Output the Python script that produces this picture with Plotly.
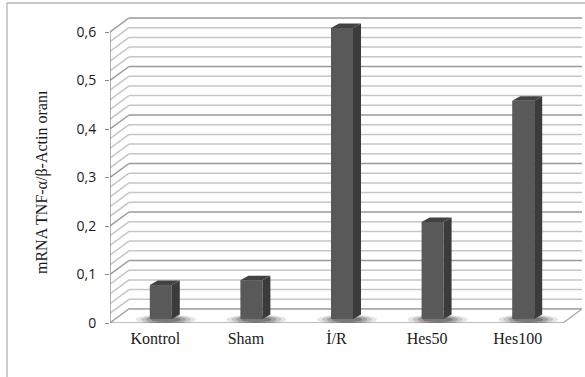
import plotly.graph_objects as go

# Data
categories = ["Kontrol", "Sham", "İ/R", "Hes50", "Hes100"]
tnf_ratio = [0.07, 0.08, 0.60, 0.20, 0.45]
y_ticks = [0.0, 0.1, 0.2, 0.3, 0.4, 0.5, 0.6]
y_tick_text = ["0", "0,1", "0,2", "0,3", "0,4", "0,5", "0,6"]
y_title = "mRNA TNF-α/β-Actin oranı"

# Figure geometry (pixels)
W, H = 585, 377
ML, MR, MT, MB = 110, 3, 16, 54
PW, PH = W - ML - MR, H - MT - MB
N = len(categories)
YMAX = 0.6
XS = 90.6          # px per category
YS = 485.0         # px per value unit

# 3D oblique depth of the walls/floor, and of the bars (in px)
WALL_DX, WALL_DY = 19, 14
BAR_F_DX, BAR_F_DY = 5.5, 4.0
BAR_B_DX, BAR_B_DY = 13.5, 8.5
BAR_W = 22

dx = WALL_DX / XS
dy = WALL_DY / YS
fdx, fdy = BAR_F_DX / XS, BAR_F_DY / YS
bdx, bdy = BAR_B_DX / XS, BAR_B_DY / YS
bw = BAR_W / XS

x_left, x_right = -0.5, N - 0.5

FRONT = "#595959"
SIDE = "#3b3b3b"
TOP = "#424242"
MINOR = "#c6c6c6"
MAJOR = "#999999"

shapes = []

# Back wall and left wall gridlines
steps = int(round(YMAX / 0.02))
for k in range(steps + 1):
    v = k * 0.02
    major = k % 5 == 0
    col = MAJOR if major else MINOR
    shapes.append(dict(type="line", xref="x", yref="y", layer="below",
                       x0=x_left + dx, y0=v + dy, x1=x_right + dx, y1=v + dy,
                       line=dict(color=col, width=1.5)))
    shapes.append(dict(type="line", xref="x", yref="y", layer="below",
                       x0=x_left, y0=v, x1=x_left + dx, y1=v + dy,
                       line=dict(color=col, width=1.5)))

# Floor
shapes.append(dict(type="path", xref="x", yref="y", layer="below",
                   path=f"M{x_left},0 L{x_right},0 L{x_right + dx},{dy} L{x_left + dx},{dy} Z",
                   fillcolor="white", line=dict(color="#a8a8a8", width=1.3)))

# Front vertical axis line
shapes.append(dict(type="line", xref="x", yref="y", layer="below",
                   x0=x_left, y0=0, x1=x_left, y1=YMAX,
                   line=dict(color="#8a8a8a", width=1.3)))

# Soft shadows on the floor under each bar (stacked translucent ellipses)
for i in range(N):
    cx = i + fdx + 5 / XS
    cy = fdy - 0.5 / YS
    for rx, ry, op in [(30, 5.0, 0.10), (25, 4.2, 0.14), (20, 3.4, 0.18), (15, 2.6, 0.24)]:
        shapes.append(dict(type="circle", xref="x", yref="y", layer="below",
                           x0=cx - rx / XS, x1=cx + rx / XS,
                           y0=cy - ry / YS, y1=cy + ry / YS,
                           fillcolor="black", opacity=op, line=dict(width=0)))

# Side and top faces of each bar
for i, v in enumerate(tnf_ratio):
    xr = i + fdx + bw / 2
    xl = i + fdx - bw / 2
    ddx, ddy = bdx - fdx, bdy - fdy
    y0 = fdy
    y1 = fdy + v
    shapes.append(dict(type="path", xref="x", yref="y", layer="above",
                       path=f"M{xr},{y0} L{xr + ddx},{y0 + ddy} L{xr + ddx},{y1 + ddy} L{xr},{y1} Z",
                       fillcolor=SIDE, line=dict(width=0)))
    shapes.append(dict(type="path", xref="x", yref="y", layer="above",
                       path=f"M{xl},{y1} L{xr},{y1} L{xr + ddx},{y1 + ddy} L{xl + ddx},{y1 + ddy} Z",
                       fillcolor=TOP, line=dict(width=0)))

# Chart frame (top and left edges)
px0 = (7 - ML) / PW
py0 = 1 - (3 - MT) / PH
shapes.append(dict(type="line", xref="paper", yref="paper", x0=px0, y0=py0, x1=1 + MR / PW + 0.01, y1=py0,
                   line=dict(color="#b4b4b4", width=1.3)))
shapes.append(dict(type="line", xref="paper", yref="paper", x0=px0, y0=py0, x1=px0, y1=-MB / PH - 0.01,
                   line=dict(color="#b4b4b4", width=1.3)))

fig = go.Figure()
fig.add_trace(go.Bar(
    x=[i + fdx for i in range(N)],
    y=tnf_ratio,
    base=[fdy] * N,
    width=bw,
    marker=dict(color=FRONT, line=dict(width=0)),
    hoverinfo="skip",
    showlegend=False,
))

fig.update_layout(
    width=W, height=H,
    margin=dict(l=ML, r=MR, t=MT, b=MB),
    paper_bgcolor="white",
    plot_bgcolor="white",
    shapes=shapes,
    xaxis=dict(
        range=[x_left, x_left + PW / XS],
        tickmode="array", tickvals=list(range(N)), ticktext=categories,
        showgrid=False, zeroline=False, showline=False, ticks="",
        tickfont=dict(family="Liberation Serif", size=16, color="#1a1a1a"),
        ticklabelstandoff=4,
    ),
    yaxis=dict(
        range=[0, PH / YS],
        tickmode="array", tickvals=y_ticks, ticktext=y_tick_text,
        showgrid=False, zeroline=False, showline=False,
        ticks="outside", ticklen=4, tickcolor="#8a8a8a", tickwidth=1.3,
        tickfont=dict(family="Open Sans", size=14, color="#1a1a1a"),
        ticklabelstandoff=6,
    ),
    annotations=[dict(
        text=y_title, textangle=-90, showarrow=False,
        xref="paper", yref="paper",
        x=(42 - ML) / PW, y=1 - (182 - MT) / PH,
        xanchor="center", yanchor="middle",
        font=dict(family="Liberation Serif", size=16, color="#1a1a1a"),
    )],
)

fig.write_html("out.html")
